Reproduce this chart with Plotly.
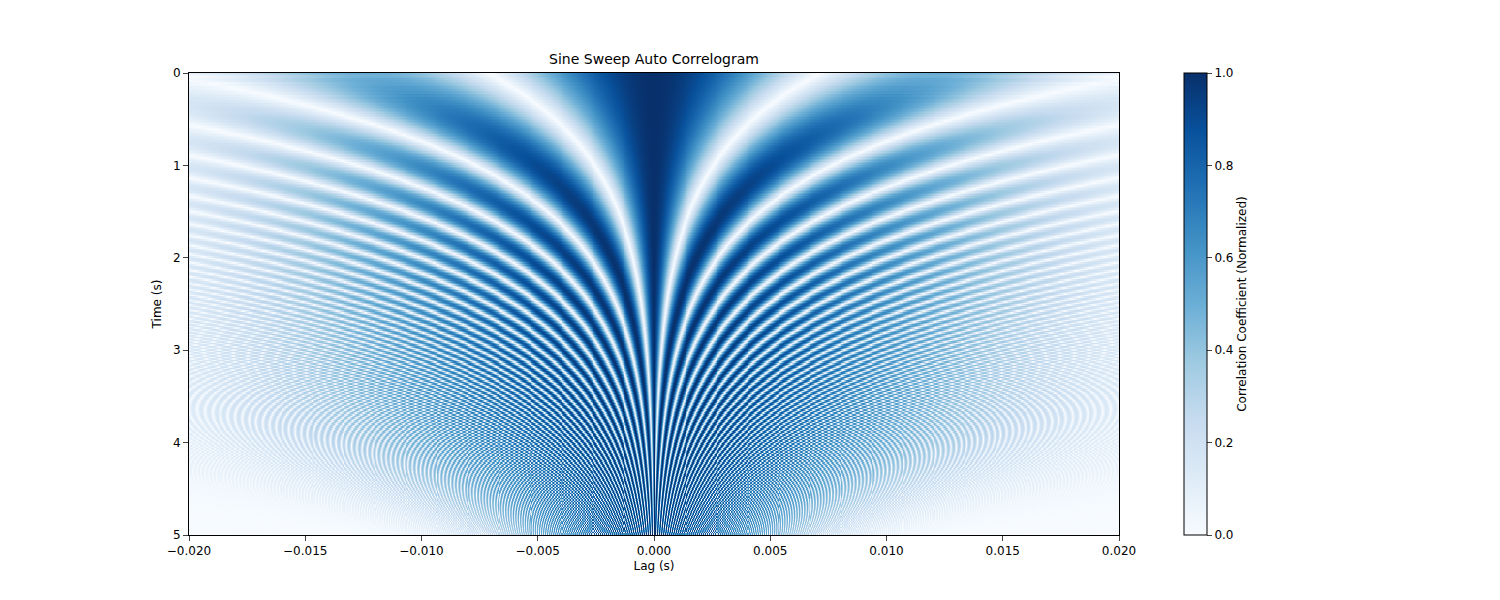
import numpy as np
import plotly.graph_objects as go
from plotly.colors import sequential

# Sweep / analysis parameters
fs = 24000
duration = 5.0
f_start = 35.0
f_end = 6000.0
max_lag = 0.02
win = 0.04
n_frames = 300
x_ticks = [-0.020, -0.015, -0.010, -0.005, 0.000, 0.005, 0.010, 0.015, 0.020]
x_tick_labels = ["\u22120.020", "\u22120.015", "\u22120.010", "\u22120.005", "0.000", "0.005", "0.010", "0.015", "0.020"]
y_ticks = [0, 1, 2, 3, 4, 5]

L = int(max_lag * fs)
W = int(win * fs)
pad = L + W
t = np.arange(-pad, int(duration * fs) + pad) / fs
k = np.log(f_end / f_start) / duration
phase = 2 * np.pi * f_start * (np.exp(k * t) - 1) / k
sig = np.sin(phase)
hann = np.hanning(W)

times = np.linspace(0, duration, n_frames)
lags = np.arange(-L, L + 1)
Z = np.zeros((n_frames, len(lags)))
for i, tc in enumerate(times):
    c = int(tc * fs) + pad
    seg = sig[c - W // 2: c - W // 2 + W] * hann
    r = np.correlate(seg, seg, mode="full")
    mid = W - 1
    r = r[mid - L: mid + L + 1] / (r[mid] + 1e-12)
    Z[i] = np.abs(r)
Z = np.clip(Z, 0, 1)

fig = go.Figure(go.Heatmap(
    x=lags / fs, y=times, z=Z, zmin=0, zmax=1,
    colorscale=sequential.Blues, zsmooth=False,
    colorbar=dict(x=(1176 - 181) / 930, xanchor="left", thickness=23, len=1, y=0.5, yanchor="middle",
                  xpad=0, ypad=0,
                  outlinewidth=1, outlinecolor="black", ticks="outside",
                  tickvals=[0, 0.2, 0.4, 0.6, 0.8, 1.0], ticktext=["0.0", "0.2", "0.4", "0.6", "0.8", "1.0"],
                  title=dict(text="Correlation Coefficient (Normalized)", side="right", font=dict(size=12)),
                  tickfont=dict(size=12)),
))
fig.update_layout(
    width=1500, height=600, paper_bgcolor="white", plot_bgcolor="white",
    margin=dict(l=181, r=389, t=65, b=73),
    font=dict(family="DejaVu Sans", size=12, color="black"),
    title=dict(text="Sine Sweep Auto Correlogram", x=(181 + 1111) / 2 / 1500, xanchor="center",
               y=1 - 51 / 600, yanchor="middle", font=dict(size=14)),
    xaxis=dict(range=[-max_lag, max_lag], tickvals=x_ticks, ticktext=x_tick_labels, ticks="outside",
               showline=True, mirror=True, linecolor="black", showgrid=False, zeroline=False,
               title=dict(text="Lag (s)", standoff=4, font=dict(size=12))),
    yaxis=dict(range=[duration, 0], tickvals=y_ticks, ticks="outside",
               showline=True, mirror=True, linecolor="black", showgrid=False, zeroline=False,
               title=dict(text="Time (s)", standoff=8, font=dict(size=12))),
)
fig.write_html("out.html")
